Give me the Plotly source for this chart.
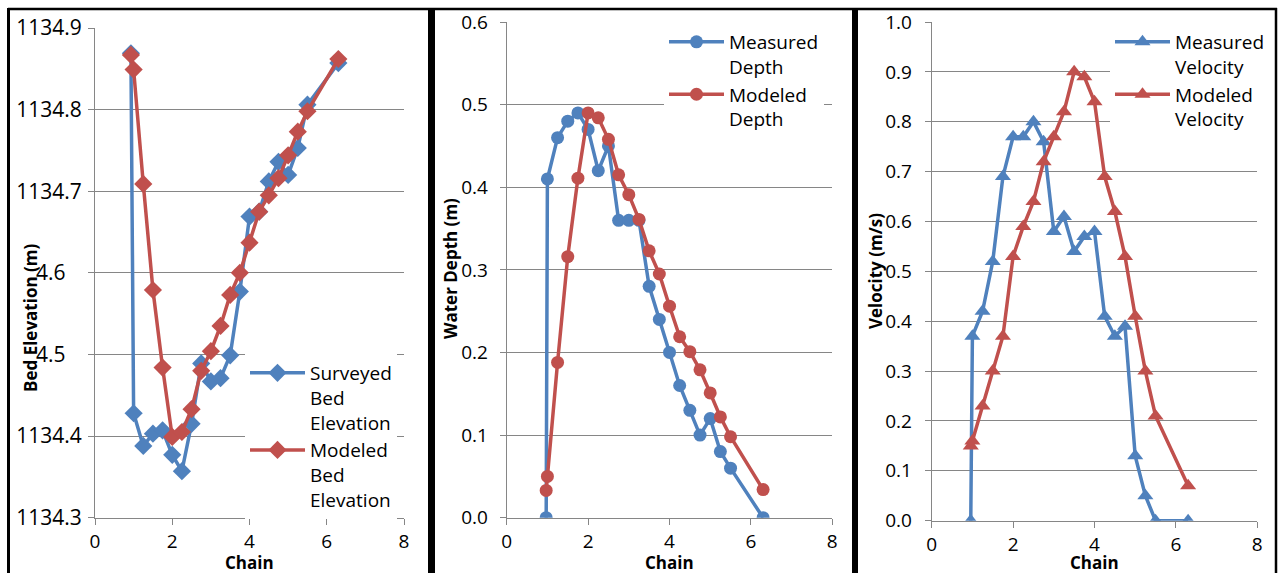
import plotly.graph_objects as go

W, H = 1280, 573
BLUE = "#4F81BD"
RED = "#C0504D"
GRID = "#868686"
FONT = "Open Sans"

# ---------------- data ----------------
chain_bed = [0.93, 1.0, 1.25, 1.5, 1.75, 2.0, 2.25, 2.5, 2.75, 3.0, 3.25, 3.5,
             3.75, 4.0, 4.25, 4.5, 4.75, 5.0, 5.25, 5.5, 6.3]
surveyed_bed = [1134.869, 1134.428, 1134.388, 1134.403, 1134.407, 1134.377, 1134.357,
                1134.415, 1134.489, 1134.467, 1134.471, 1134.499, 1134.577, 1134.669,
                1134.675, 1134.712, 1134.736, 1134.720, 1134.753, 1134.806, 1134.857]
modeled_bed = [1134.867, 1134.849, 1134.709, 1134.579, 1134.484, 1134.399, 1134.405,
               1134.433, 1134.480, 1134.504, 1134.535, 1134.573, 1134.600, 1134.637,
               1134.675, 1134.695, 1134.716, 1134.744, 1134.773, 1134.798, 1134.862]

chain_depth = [0.97, 1.0, 1.25, 1.5, 1.75, 2.0, 2.25, 2.5, 2.75, 3.0, 3.25, 3.5,
               3.75, 4.0, 4.25, 4.5, 4.75, 5.0, 5.25, 5.5, 6.3]
measured_depth = [0.0, 0.41, 0.46, 0.48, 0.49, 0.47, 0.42, 0.45, 0.36, 0.36, 0.36, 0.28,
                  0.24, 0.20, 0.16, 0.13, 0.10, 0.12, 0.08, 0.06, 0.0]
modeled_depth = [0.033, 0.05, 0.188, 0.316, 0.411, 0.49, 0.484, 0.458, 0.415, 0.391, 0.361,
                 0.323, 0.295, 0.256, 0.219, 0.201, 0.179, 0.151, 0.122, 0.098, 0.034]

chain_vel = [0.96, 1.0, 1.25, 1.5, 1.75, 2.0, 2.25, 2.5, 2.75, 3.0, 3.25, 3.5,
             3.75, 4.0, 4.25, 4.5, 4.75, 5.0, 5.25, 5.5, 6.3]
measured_vel = [0.0, 0.37, 0.42, 0.52, 0.69, 0.77, 0.77, 0.80, 0.76, 0.58, 0.61, 0.54,
                0.57, 0.58, 0.41, 0.37, 0.39, 0.13, 0.05, 0.0, 0.0]
modeled_vel = [0.15, 0.16, 0.23, 0.30, 0.37, 0.53, 0.59, 0.64, 0.72, 0.77, 0.82, 0.90,
               0.89, 0.84, 0.69, 0.62, 0.53, 0.41, 0.30, 0.21, 0.07]

x_ticks = [0, 2, 4, 6, 8]
bed_ticks = [1134.3, 1134.4, 1134.5, 1134.6, 1134.7, 1134.8, 1134.9]
bed_ticktext = ["1134.3", "1134.4", "4.5\u00a0\u00a0\u00a0", "4.6\u00a0\u00a0\u00a0",
                "1134.7", "1134.8", "1134.9"]
depth_ticks = [0.0, 0.1, 0.2, 0.3, 0.4, 0.5, 0.6]
vel_ticks = [0.0, 0.1, 0.2, 0.3, 0.4, 0.5, 0.6, 0.7, 0.8, 0.9, 1.0]

names = ["Surveyed<br>Bed<br>Elevation", "Modeled<br>Bed<br>Elevation",
         "Measured<br>Depth", "Modeled<br>Depth",
         "Measured<br>Velocity", "Modeled<br>Velocity"]

def PX(x):
    return x / W

def PY(y):
    return 1 - y / H

fig = go.Figure()

def add(xs, ys, name, color, symbol, size, xa, ya, leg):
    fig.add_trace(go.Scatter(
        x=xs, y=ys, name=name, mode="lines+markers",
        line=dict(color=color, width=3.5),
        marker=dict(color=color, symbol=symbol, size=size, line=dict(width=0)),
        xaxis=xa, yaxis=ya, legend=leg))

add(chain_bed, surveyed_bed, names[0], BLUE, "diamond", 14, "x", "y", "legend")
add(chain_bed, modeled_bed, names[1], RED, "diamond", 14, "x", "y", "legend")
add(chain_depth, measured_depth, names[2], BLUE, "circle", 13, "x2", "y2", "legend2")
add(chain_depth, modeled_depth, names[3], RED, "circle", 13, "x2", "y2", "legend2")
add(chain_vel, measured_vel, names[4], BLUE, "triangle-up", 14, "x3", "y3", "legend3")
add(chain_vel, modeled_vel, names[5], RED, "triangle-up", 14, "x3", "y3", "legend3")

tickfont = dict(family=FONT, size=19, color="black")

def xaxis(domain, anchor):
    return dict(domain=domain, anchor=anchor, range=[0, 8], tickvals=x_ticks,
                showgrid=False, zeroline=False, showline=True, linecolor=GRID, linewidth=1,
                ticks="outside", ticklen=6, tickcolor=GRID, tickfont=tickfont,
                ticklabelstandoff=0, fixedrange=True, automargin=False)

def yaxis(domain, anchor, rng, tv, tt=None, standoff=2, fsize=19):
    d = dict(domain=domain, anchor=anchor, range=rng, tickvals=tv,
             showgrid=True, gridcolor=GRID, gridwidth=1, zeroline=False,
             showline=True, linecolor=GRID, linewidth=1,
             ticks="outside", ticklen=6, tickcolor=GRID,
             tickfont=dict(family=FONT, size=fsize, color="black"),
             ticklabelstandoff=standoff, fixedrange=True, automargin=False)
    if tt is not None:
        d["ticktext"] = tt
    else:
        d["tickformat"] = ".1f"
    return d

fig.update_layout(
    width=W, height=H, margin=dict(l=0, r=0, t=0, b=0),
    paper_bgcolor="white", plot_bgcolor="white",
    font=dict(family=FONT, color="black"),
    xaxis=xaxis([PX(95), PX(404)], "y"),
    yaxis=yaxis([PY(517.7), PY(28)], "x", [1134.3, 1134.9], bed_ticks, bed_ticktext, 2, 21),
    xaxis2=xaxis([PX(506.7), PX(832.3)], "y2"),
    yaxis2=yaxis([PY(517.7), PY(22)], "x2", [0, 0.6], depth_ticks, None, 8),
    xaxis3=xaxis([PX(931.7), PX(1257.3)], "y3"),
    yaxis3=yaxis([PY(520.7), PY(22)], "x3", [0, 1.0], vel_ticks, None, 9),
    showlegend=True,
)

legfont = dict(family=FONT, size=19, color="black")
def leg(x, y):
    return dict(x=PX(x), y=PY(y), xanchor="left", yanchor="top", bgcolor="white",
                font=legfont, valign="top", itemwidth=55, tracegroupgap=0,
                borderwidth=0, itemclick=False, itemdoubleclick=False)

fig.update_layout(legend=leg(245, 354), legend2=leg(664, 23), legend3=leg(1110, 23))

# axis titles
ann = []
for cx, cy in [(249.5, 562), (669.5, 562), (1094.5, 562.5)]:
    ann.append(dict(x=PX(cx), y=PY(cy), xref="paper", yref="paper", text="<b>Chain</b>",
                    showarrow=False, font=dict(family=FONT, size=17, color="black"),
                    xanchor="center", yanchor="middle"))
for cx, cy, t in [(30, 318, "Bed Elevation (m)"), (450, 269, "Water Depth (m)"),
                  (876, 271, "Velocity (m/s)")]:
    ann.append(dict(x=PX(cx), y=PY(cy), xref="paper", yref="paper", text="<b>%s</b>" % t,
                    textangle=-90, showarrow=False, font=dict(family=FONT, size=17, color="black"),
                    xanchor="center", yanchor="middle"))
fig.update_layout(annotations=ann)

# panel borders
shapes = [
    dict(type="line", xref="paper", yref="paper", x0=PX(8), x1=PX(1277), y0=PY(9), y1=PY(9),
         line=dict(color="black", width=2.5)),
    dict(type="line", xref="paper", yref="paper", x0=PX(8.5), x1=PX(8.5), y0=0, y1=PY(8),
         line=dict(color="black", width=3)),
    dict(type="line", xref="paper", yref="paper", x0=PX(431.5), x1=PX(431.5), y0=0, y1=PY(8),
         line=dict(color="black", width=7)),
    dict(type="line", xref="paper", yref="paper", x0=PX(855), x1=PX(855), y0=0, y1=PY(8),
         line=dict(color="black", width=6)),
    dict(type="line", xref="paper", yref="paper", x0=PX(1276), x1=PX(1276), y0=0, y1=PY(8),
         line=dict(color="black", width=2.5)),
]
fig.update_layout(shapes=shapes)

fig.write_html("out.html", config={"displayModeBar": False},
               post_script="document.body.style.margin='0px';document.body.style.overflow='hidden';")
